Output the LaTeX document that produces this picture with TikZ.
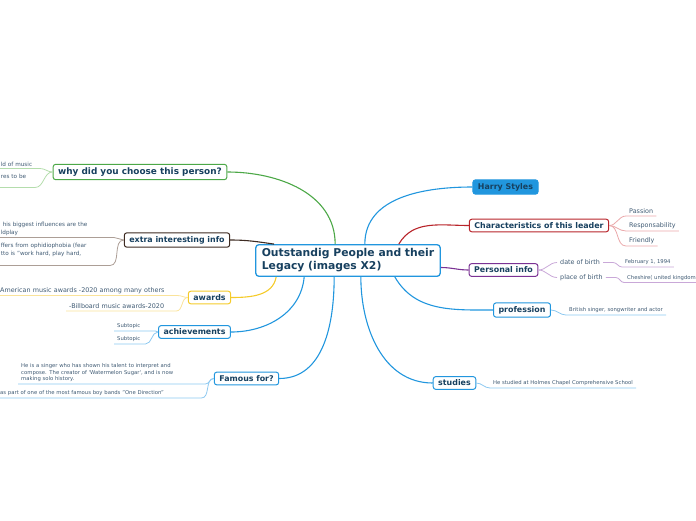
\documentclass[tikz,border=0pt]{standalone}
\usepackage{fontspec}
\setmainfont{DejaVu Sans}
\usepackage{tikz}
\usetikzlibrary{calc}
\usepackage{xcolor}

\definecolor{mmblue}{HTML}{2196DE}
\definecolor{mmblueL}{HTML}{8CC8F0}
\definecolor{mmgreen}{HTML}{4CA847}
\definecolor{mmgreenL}{HTML}{B4DDAC}
\definecolor{mmbrown}{HTML}{3D2B22}
\definecolor{mmbrownL}{HTML}{AC9E96}
\definecolor{mmyellow}{HTML}{F5CB2A}
\definecolor{mmyellowL}{HTML}{FAE39A}
\definecolor{mmred}{HTML}{B8242A}
\definecolor{mmredL}{HTML}{EAA8AA}
\definecolor{mmpurple}{HTML}{7B3294}
\definecolor{mmpurpleL}{HTML}{C9A8D8}
\definecolor{ink}{HTML}{17405F}
\definecolor{subink}{HTML}{3F5A73}

\tikzset{
  root/.style={draw=mmblue, fill=white, line width=1.3pt, rounded corners=3pt, text=ink,
    font=\bfseries\fontsize{10.8}{13}\selectfont, align=left, inner xsep=6pt, inner ysep=4pt},
  topic/.style={draw, fill=white, line width=1pt, rounded corners=2.5pt, text=ink,
    font=\bfseries\fontsize{7.9}{9}\selectfont, inner xsep=5pt, inner ysep=3.3pt},
  subbig/.style={text=subink, font=\fontsize{6.4}{8}\selectfont, inner xsep=3pt, inner ysep=1.8pt, align=left},
  subsmall/.style={text=subink, font=\fontsize{5.3}{6.6}\selectfont, inner xsep=3pt, inner ysep=1.8pt, align=left},
  link/.style={line width=1.1pt},
  twig/.style={line width=0.8pt},
}

\begin{document}
\begin{tikzpicture}[x=1pt,y=-1pt]
        \useasboundingbox (0,0) rectangle (696,520);
        \clip (0,0) rectangle (696,520);

        % centre and main topics
        \node[root] (central) at (348,260.5) {Outstandig People and their\\Legacy (images X2)};
        \node[topic, draw=mmblue, fill=mmblue] (harry) at (505.5,187) {Harry Styles};
        \node[topic, draw=mmred] (leader) at (539,225.5) {Characteristics of this leader};
        \node[topic, draw=mmpurple] (pinfo) at (503.5,270) {Personal info};
        \node[topic, draw=mmblue] (prof) at (522,310) {profession};
        \node[topic, draw=mmblue] (studies) at (454.5,383) {studies};
        \node[topic, draw=mmgreen, font=\bfseries\fontsize{8.9}{10}\selectfont] (why) at (140,172) {why did you choose this person?};
        \node[topic, draw=mmbrown] (extra) at (177,240) {extra interesting info};
        \node[topic, draw=mmyellow] (awards) at (209.5,297.5) {awards};
        \node[topic, draw=mmblue] (achiev) at (194.5,332) {achievements};
        \node[topic, draw=mmblue] (famous) at (246.5,378.5) {Famous for?};

        % main connectors
        \draw[link, mmgreen] ([xshift=80pt]central.north west) to[out=90,in=0] (why.east);
        \draw[link, mmbrown] (extra.east) to[out=0,in=172] ([xshift=19pt]central.north west);
        \draw[link, mmyellow] ([xshift=21pt]central.south west) to[out=-100,in=0] (awards.east);
        \draw[link, mmblue] ([xshift=49pt]central.south west) to[out=-95,in=0] (achiev.east);
        \draw[link, mmblue] ([xshift=79pt]central.south west) to[out=-90,in=0] (famous.east);
        \draw[link, mmblue] ([xshift=-76pt]central.north east) to[out=90,in=180] (harry.west);
        \draw[link, mmred] ([xshift=-42pt]central.north east) to[out=60,in=180] (leader.west);
        \draw[link, mmpurple] ([yshift=-7pt]central.east) to[out=0,in=180] (pinfo.west);
        \draw[link, mmblue] ([xshift=-46pt]central.south east) to[out=-60,in=180] (prof.west);
        \draw[link, mmblue] ([xshift=-80pt]central.south east) to[out=-90,in=180] (studies.west);

        % characteristics
        \node[subbig, anchor=south west] (passion) at (626,216) {Passion};
        \node[subbig, anchor=south west] (respons) at (626,231) {Responsability};
        \node[subbig, anchor=south west] (friendly) at (626,246) {Friendly};
        \foreach \n in {passion,respons,friendly}
          \draw[twig, mmredL] (leader.east) to[out=0,in=180] (\n.south west) -- (\n.south east);

        % personal info
        \node[subbig, anchor=west] (dob) at (557,262.5) {date of birth};
        \node[subbig, anchor=west] (pob) at (557,277.5) {place of birth};
        \node[subsmall, anchor=south west] (bday) at (622,267) {February 1, 1994};
        \node[subsmall, anchor=south west] (home) at (624,282.5) {Cheshire( united kingdom};
        \draw[twig, mmpurpleL] (pinfo.east) to[out=0,in=180] (dob.west);
        \draw[twig, mmpurpleL] (pinfo.east) to[out=0,in=180] (pob.west);
        \draw[twig, mmpurpleL] (dob.east) -- ++(10,0) to[out=0,in=180] (bday.south west) -- (bday.south east);
        \draw[twig, mmpurpleL] (pob.east) -- ++(10,0) to[out=0,in=180] (home.south west) -- ++(80,0);

        % profession and studies
        \node[subsmall, anchor=south west] (job) at (566,315) {British singer, songwriter and actor};
        \draw[twig, mmblueL] (prof.east) to[out=0,in=180] (job.south west) -- (job.south east);
        \node[subsmall, anchor=south west] (school) at (490,388) {He studied at Holmes Chapel Comprehensive School};
        \draw[twig, mmblueL] (studies.east) to[out=0,in=180] (school.south west) -- (school.south east);

        % why
        \node[subsmall, font=\fontsize{5.7}{7.5}\selectfont, anchor=south east, text width=36pt] (why1) at (40,168.5) {ld of music};
        \node[subsmall, font=\fontsize{5.7}{7.5}\selectfont, anchor=south east, text width=31pt] (why2) at (35,187.5) {res to be\\~};
        \foreach \n in {why1,why2}
          \draw[twig, mmgreenL] (why.west) to[out=180,in=0] (\n.south east) -- ++(-60,0);

        % extra info
        \node[subsmall, font=\fontsize{5.7}{7.8}\selectfont, anchor=south east, text width=110pt] (fact1) at (114,237.5) {\hspace{2pt}his biggest influences are the\\ldplay};
        \node[subsmall, font=\fontsize{5.7}{7.8}\selectfont, anchor=south east, text width=106pt] (fact2) at (110,265.5) {ffers from ophidiophobia (fear\\tto is "work hard, play hard,\\~};
        \foreach \n in {fact1,fact2}
          \draw[twig, mmbrownL] (extra.west) to[out=180,in=0] (\n.south east) -- ++(-120,0);

        % awards
        \node[subbig, anchor=south west, text width=174pt] (amas) at (-3,295.5) {American music awards -2020 among many others};
        \node[subbig, anchor=south west] (bbmas) at (66,311) {-Billboard music awards-2020};
        \draw[twig, mmyellowL] (awards.west) to[out=180,in=0] (amas.south east) -- (amas.south west);
        \draw[twig, mmyellowL] (awards.west) to[out=180,in=0] ([xshift=9pt]bbmas.south east) -- (bbmas.south west);

        % achievements
        \node[subsmall, anchor=south west, text width=35pt] (sub1) at (114,331) {Subtopic};
        \node[subsmall, anchor=south west, text width=25pt] (sub2) at (114,344) {Subtopic};
        \foreach \n in {sub1,sub2}
          \draw[twig, mmblueL] (achiev.west) to[out=180,in=0] (\n.south east) -- (\n.south west);

        % famous for
        \node[subsmall, anchor=south west, text width=181pt] (fame1) at (18,384) {He is a singer who has shown his talent to interpret and\\compose. The creator of \textquotesingle Watermelon Sugar\textquotesingle, and is now\\making solo history.};
        \node[subsmall, anchor=south west, text width=198pt] (fame2) at (-3,398) {as part of one of the most famous boy bands "One Direction"};
        \foreach \n in {fame1,fame2}
          \draw[twig, mmblueL] (famous.west) to[out=180,in=0] (\n.south east) -- (\n.south west);
\end{tikzpicture}
\end{document}
